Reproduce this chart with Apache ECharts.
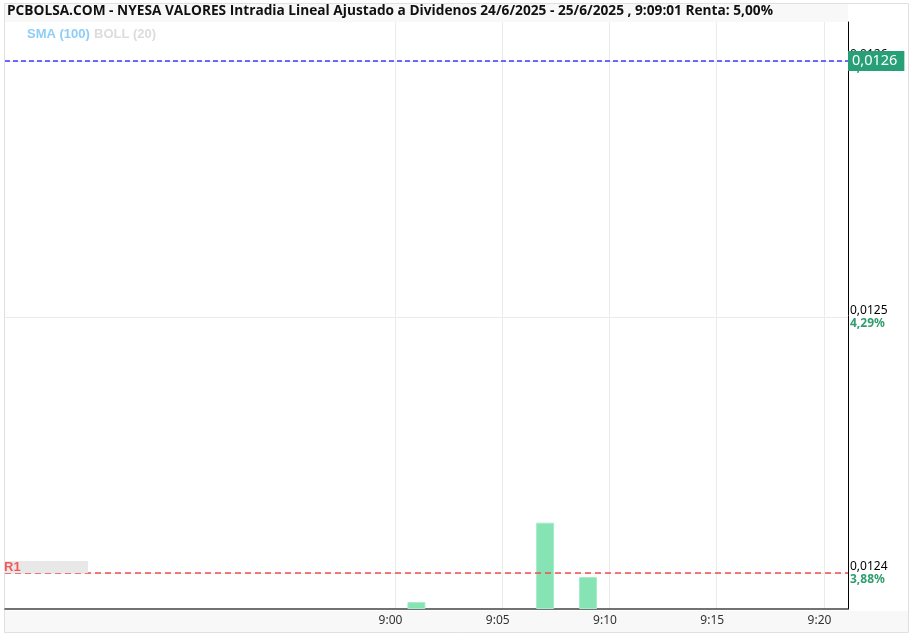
<!DOCTYPE html>
<html><head><meta charset="utf-8">
<script src="https://cdn.jsdelivr.net/npm/echarts@6/dist/echarts.min.js"></script>
<style>html,body{margin:0;padding:0;background:#fff}#c{width:914px;height:638px}</style>
</head><body><div id="c"></div>
<script>
// ---- data ----
var titleText = 'PCBOLSA.COM - NYESA VALORES Intradia Lineal Ajustado a Dividenos 24/6/2025 - 25/6/2025 , 9:09:01 Renta: 5,00%';
var times = ['9:01', '9:07', '9:09'];
var prices = [0.0126, 0.0126, 0.0126];
var volumes = [8, 100, 37];
var xTickLabels = ['9:00', '9:05', '9:10', '9:15', '9:20'];
var yTickValues = [0.0124, 0.0125, 0.0126];
var pctLabels = ['3,88%', '4,29%', '5,00%'];
var resistanceR1 = 0.0124;
var lastPrice = 0.0126;

function toMin(t){var p=t.split(':');return (+p[0])*60+(+p[1]);}
var xMin = toMin('9:00') - 18.18, xMax = toMin('9:00') + 21.12;
var yMin = 0.012385938, yMax = 0.012615234;
function fmtPrice(v){return v.toFixed(4).replace('.',',');}
function pctFor(arr,v){for(var i=0;i<yTickValues.length;i++){if(Math.abs(yTickValues[i]-v)<1e-9)return arr[i];}return '';}

var chart = echarts.init(document.getElementById('c'));
var font = 'Noto Sans';
chart.setOption({
  animation:false,
  textStyle:{fontFamily:font},
  graphic:[
    {type:'rect',z:-10,shape:{x:4.5,y:3.5,width:904,height:629},style:{fill:'#fff',stroke:'#e0e0e0',lineWidth:1}},
    {type:'rect',z:-9,shape:{x:5,y:4,width:843,height:18},style:{fill:'#f8f8f8'}},
    {type:'rect',z:-9,shape:{x:5,y:611,width:903,height:21},style:{fill:'#f8f8f8'}},
    {type:'text',left:27,top:28,style:{text:'SMA (100)',fill:'#8ecdf7',font:'bold 13px "Liberation Sans"'}},
    {type:'text',left:94,top:28,style:{text:'BOLL (20)',fill:'#dcdcdc',font:'bold 13px "Liberation Sans"'}}
  ],
  title:{text:titleText,left:3,top:3,padding:[1,4],textStyle:{fontSize:13.7,fontWeight:'bold',color:'#111',fontFamily:'Open Sans'}},
  grid:{left:5,right:66,top:22,bottom:29},
  xAxis:{type:'value',min:xMin,max:xMax,
    axisLine:{show:true,onZero:false,lineStyle:{color:'#444',width:1.5}},
    axisTick:{show:false,customValues:xTickLabels.map(toMin)},
    axisLabel:{customValues:xTickLabels.map(toMin),color:'#333',fontSize:12,margin:6,padding:[0,9,0,0],
      formatter:function(v){var h=Math.floor(Math.round(v)/60),m=Math.round(v)%60;return h+':'+(m<10?'0':'')+m;}},
    splitLine:{show:true,lineStyle:{color:'#ebebeb'}}
  },
  yAxis:[
    {type:'value',position:'right',offset:0,min:yMin,max:yMax,
      axisLine:{show:true,lineStyle:{color:'#000',width:1}},
      axisTick:{show:false,customValues:yTickValues},
      axisLabel:{customValues:yTickValues,margin:2,
        formatter:function(v){return '{p|'+fmtPrice(v)+'}\n{q|'+pctFor(pctLabels,v)+'}';},
        rich:{p:{color:'#000',fontSize:12,lineHeight:13,fontFamily:font},q:{color:'#2e9e6e',fontSize:12,lineHeight:13,fontWeight:'bold',fontFamily:font}}},
      splitLine:{show:true,lineStyle:{color:'#ebebeb'}}
    },
    {type:'value',position:'left',show:false,min:0,max:680}
  ],
  series:[
    {type:'bar',yAxisIndex:1,barWidth:18,
      data:times.map(function(t,i){return [toMin(t),volumes[i]];}),
      itemStyle:{color:'#86e3b3',borderColor:'#a6ecc8',borderWidth:1}},
    {type:'line',yAxisIndex:0,symbol:'none',z:3,
      data:times.map(function(t,i){return [toMin(t),prices[i]];}),
      lineStyle:{width:1,color:'rgba(0,0,0,0)'}},
    {type:'line',yAxisIndex:0,symbol:'circle',symbolSize:0.01,showSymbol:true,z:4,silent:true,
      itemStyle:{color:'rgba(0,0,0,0)'},
      data:[{value:[xMin,resistanceR1],label:{show:true,position:'right',distance:-1,offset:[0,-6],formatter:'R1',
          color:'#f05a5a',fontSize:13,fontWeight:'bold',backgroundColor:'#e8e8e8',width:84,height:12,lineHeight:12,padding:0,fontFamily:'Liberation Sans'}},
        {value:[xMax,resistanceR1]}],
      lineStyle:{color:'#f04e4e',type:[6,4],width:1.3}},
    {type:'line',yAxisIndex:0,symbol:'circle',symbolSize:0.01,showSymbol:true,z:6,silent:true,
      itemStyle:{color:'rgba(0,0,0,0)'},
      data:[{value:[xMin,lastPrice]},{value:[xMax,lastPrice],label:{show:true,position:'right',distance:0,
          formatter:function(){return fmtPrice(lastPrice);},
          color:'#fff',fontSize:14.5,lineHeight:16,backgroundColor:'#27a077',padding:[2,7,2,4],fontFamily:font}}],
      lineStyle:{color:'#3b3bff',type:[5,3],width:1.3}}
  ]
});
</script></body></html>
